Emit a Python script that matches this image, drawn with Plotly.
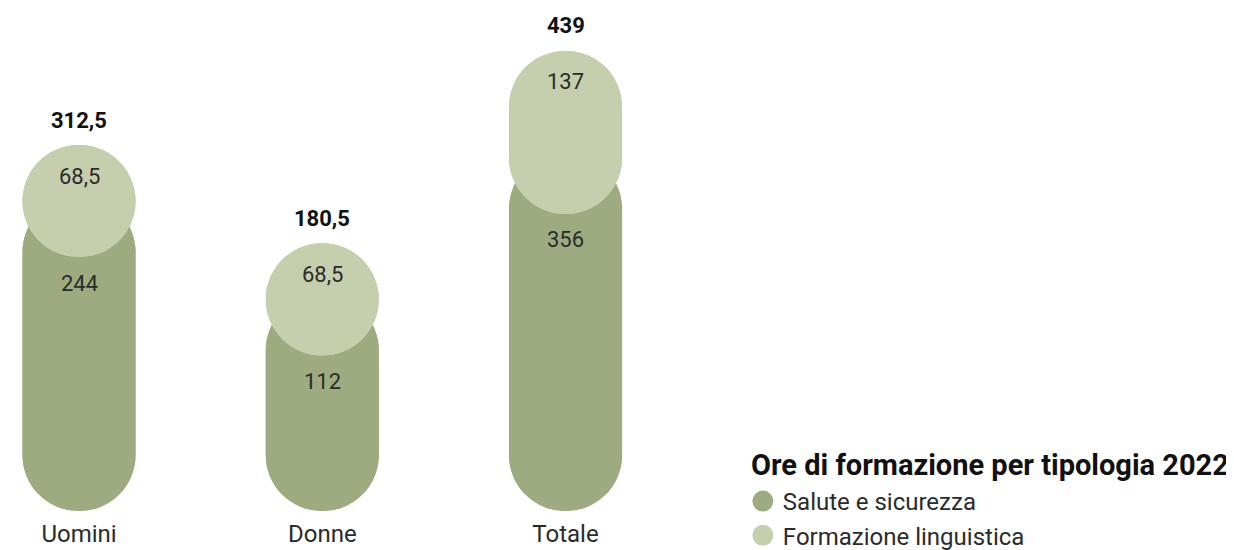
import plotly.graph_objects as go

# ---- data -------------------------------------------------------------
categories = ["Uomini", "Donne", "Totale"]
salute = [244, 112, 356]            # Salute e sicurezza
linguistica = [68.5, 68.5, 137]     # Formazione linguistica
totali = [312.5, 180.5, 439]        # labelled totals

series_names = ["Salute e sicurezza", "Formazione linguistica"]
legend_title = "Ore di formazione per tipologia 2022"

# ---- style ------------------------------------------------------------
DARK = "#9eab80"
LIGHT = "#c5cead"
TEXT = "#2b2b2b"
BOLD = "#111111"
FONT = "Roboto"

CAP_BOTTOM = 179   # data-unit extension below zero for the rounded foot
CAP_LIGHT = 82     # data-unit extension of the light cap over the dark part
BAR_W = 0.4646


def fmt(v):
    return f"{v:g}".replace(".", ",")


x = list(range(len(categories)))
dark_top = [t - l for t, l in zip(totali, linguistica)]
light_bottom = [t - l - CAP_LIGHT for t, l in zip(totali, linguistica)]

fig = go.Figure()


def pill(lo, hi, color):
    """Two overlapping bars, one rounded at the top, one at the bottom."""
    common = dict(width=BAR_W, showlegend=False, hoverinfo="skip")
    mk = dict(color=color, cornerradius="50%", line=dict(width=0))
    fig.add_trace(go.Bar(x=x, y=[h - l for l, h in zip(lo, hi)], base=lo,
                         marker=mk, **common))
    fig.add_trace(go.Bar(x=x, y=[l - h for l, h in zip(lo, hi)], base=hi,
                         marker=mk, **common))


pill([-CAP_BOTTOM] * len(x), dark_top, DARK)
pill(light_bottom, totali, LIGHT)

# legend entries (round symbols)
for name, col in zip(series_names, [DARK, LIGHT]):
    fig.add_trace(go.Scatter(x=[None], y=[None], mode="markers", name=name,
                             marker=dict(size=16, color=col,
                                         line=dict(width=5, color=col))))

ann = []
for i, c in enumerate(x):
    ann.append(dict(x=c, y=totali[i], text=f"<b>{fmt(totali[i])}</b>",
                    showarrow=False, yshift=25, yanchor="middle",
                    font=dict(family=FONT, size=22, color=BOLD)))
    ann.append(dict(x=c, y=totali[i], text=fmt(linguistica[i]),
                    showarrow=False, yshift=-31, yanchor="middle",
                    font=dict(family=FONT, size=22, color=TEXT)))
    ann.append(dict(x=c, y=light_bottom[i], text=fmt(salute[i]),
                    showarrow=False, yshift=-26, yanchor="middle",
                    font=dict(family=FONT, size=22, color=TEXT)))

ann.append(dict(xref="paper", yref="paper", x=0.6044, y=0.0915,
                xanchor="left", yanchor="middle", showarrow=False,
                text=f"<b>{legend_title}</b>",
                font=dict(family=FONT, size=29, color=BOLD)))

fig.update_layout(
    width=1226, height=542,
    barmode="overlay",
    margin=dict(l=0, r=0, t=0, b=39, pad=0, autoexpand=False),
    paper_bgcolor="white", plot_bgcolor="white",
    font=dict(family=FONT, color=TEXT),
    annotations=ann,
    xaxis=dict(range=[-0.2919, 4.748], tickvals=x, ticktext=categories,
               showgrid=False, zeroline=False, showline=False, ticks="",
               tickfont=dict(family=FONT, size=24, color=TEXT),
               ticklabelstandoff=6, automargin=False),
    yaxis=dict(range=[-CAP_BOTTOM, 496.6], visible=False, automargin=False),
    legend=dict(x=0.5994, y=0.0637, xanchor="left", yanchor="top",
                bgcolor="rgba(0,0,0,0)",
                font=dict(family=FONT, size=24, color=TEXT),
                itemsizing="trace"),
)

fig.write_html("out.html")
